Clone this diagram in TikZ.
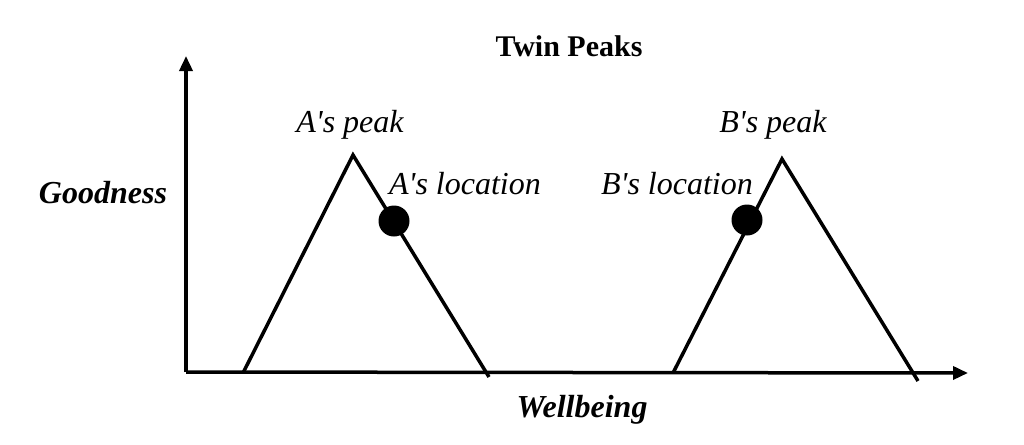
\documentclass[tikz,border=0pt]{standalone}
\usepackage{fontspec}
\setmainfont{Liberation Serif}
\usetikzlibrary{arrows.meta, positioning}
\newcommand{\ap}{\textquotesingle}
\tikzset{
	>={Triangle[length=15pt,width=13pt]}, % punta de las flechas de los ejes
	axis/.style={line width=3.5pt, ->}, % ejes
	slope/.style={line width=3.5pt}, % lados de los picos
	spot/.style={circle, fill=black, inner sep=0pt, minimum size=31pt}, % ubicaciones
	lbl/.style={font=\fontsize{32}{36}\selectfont\itshape}, % textos de los picos
	axislbl/.style={font=\fontsize{32}{36}\selectfont\bfseries\itshape} % textos de los ejes
}

\begin{document}
\begin{tikzpicture}[x=1pt, y=-1pt]
				\useasboundingbox (0,0) rectangle (1024,444);
				\coordinate (o) at (186,372);
				\coordinate (ytip) at (186,56);
				\coordinate (xtip) at (968,373);
				\coordinate (a1) at (243,373);
				\coordinate (ap) at (353,155);
				\coordinate (a2) at (489,377);
				\coordinate (b1) at (673,373);
				\coordinate (bp) at (782,159);
				\coordinate (b2) at (918,381);
				\node[font=\fontsize{30}{34}\selectfont\bfseries] (title) at (569,46) {Twin Peaks};
				\node[axislbl] (good) at (103,193) {Goodness};
				\node[axislbl] (well) at (582,410) {Wellbeing};
				\node[lbl] (apeak) at (350,125) {A\ap s peak};
				\node[lbl] (aloc) at (465,184) {A\ap s location};
				\node[lbl] (bpeak) at (773,125) {B\ap s peak};
				\node[lbl] (bloc) at (677,184) {B\ap s location};
				\draw[axis] (o) -- (ytip);
				\draw[axis] (o) -- (xtip);
				\draw[slope] (a1) -- (ap) -- (a2);
				\draw[slope] (b1) -- (bp) -- (b2);
				\node[spot] (adot) at (394,221) {};
				\node[spot] (bdot) at (747,220) {};
			\end{tikzpicture}
\end{document}
